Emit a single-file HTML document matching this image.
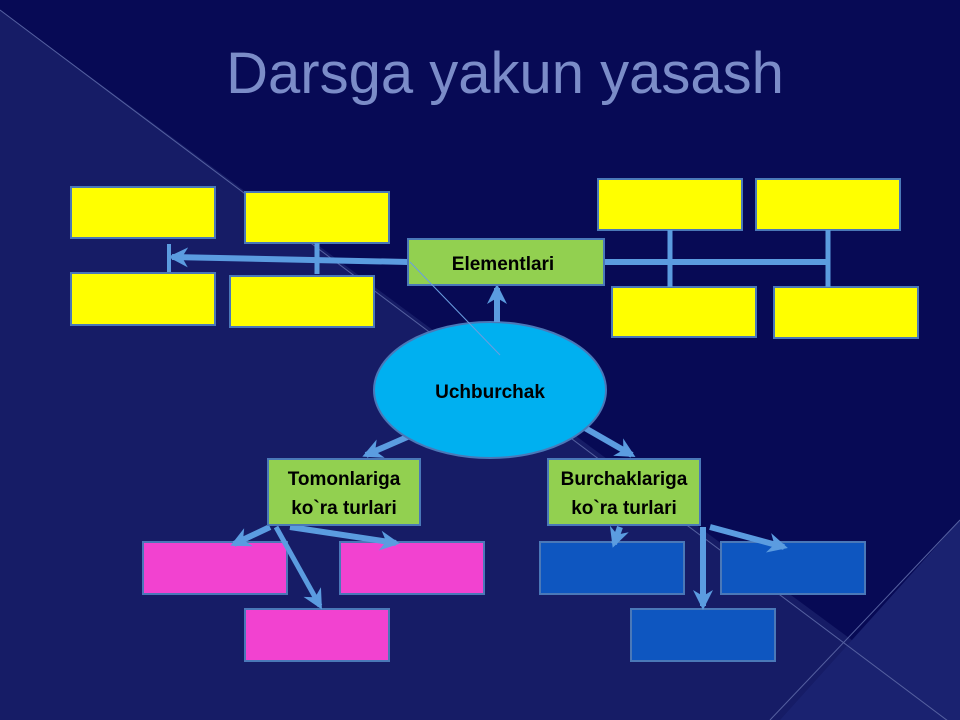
<!DOCTYPE html>
<html><head><style>
body{margin:0;width:960px;height:720px;overflow:hidden;background:#070a55;}
svg{display:block}
text{font-family:"Liberation Sans",sans-serif;font-weight:bold;fill:#000}
</style></head><body>
<svg width="960" height="720" viewBox="0 0 960 720">
<defs>
<marker id="a" markerUnits="userSpaceOnUse" markerWidth="24" markerHeight="24" refX="16" refY="10" orient="auto">
<path d="M0,0 L20,10 L0,20 L6,10 Z" fill="#5b9ce0"/>
</marker>
</defs>
<rect width="960" height="720" fill="#070a55"/>
<polygon points="0,10 0,720 960,720" fill="#161c66"/>
<polygon points="960,520 960,720 780,720" fill="#1a2270"/>
<line x1="0" y1="10" x2="960" y2="730" stroke="#5560a0" stroke-width="1"/>
<line x1="960" y1="520" x2="770" y2="720" stroke="#5560a0" stroke-width="1"/>
<text x="505" y="93" text-anchor="middle" style="font-weight:normal;font-size:58px;fill:#7b8cc8">Darsga yakun yasash</text>

<g stroke="#4a78b8" stroke-width="2">
<rect x="71" y="187" width="144" height="51" fill="#ffff00"/>
<rect x="245" y="192" width="144" height="51" fill="#ffff00"/>
<rect x="71" y="273" width="144" height="52" fill="#ffff00"/>
<rect x="230" y="276" width="144" height="51" fill="#ffff00"/>
<rect x="598" y="179" width="144" height="51" fill="#ffff00"/>
<rect x="756" y="179" width="144" height="51" fill="#ffff00"/>
<rect x="612" y="287" width="144" height="50" fill="#ffff00"/>
<rect x="774" y="287" width="144" height="51" fill="#ffff00"/>
<rect x="143" y="542" width="144" height="52" fill="#f242d0"/>
<rect x="340" y="542" width="144" height="52" fill="#f242d0"/>
<rect x="245" y="609" width="144" height="52" fill="#f242d0"/>
<rect x="540" y="542" width="144" height="52" fill="#0e56c0"/>
<rect x="721" y="542" width="144" height="52" fill="#0e56c0"/>
<rect x="631" y="609" width="144" height="52" fill="#0e56c0"/>
</g>

<g stroke="#5b9ce0" stroke-width="6" fill="none">
<line x1="408" y1="262" x2="172" y2="257" marker-end="url(#a)"/>
<line x1="169" y1="244" x2="169" y2="272" stroke-width="4"/>
<line x1="317" y1="243" x2="317" y2="274" stroke-width="5"/>
<line x1="603" y1="262" x2="828" y2="262"/>
<line x1="670" y1="230" x2="670" y2="287" stroke-width="5"/>
<line x1="828" y1="230" x2="828" y2="287" stroke-width="5"/>
<line x1="497" y1="325" x2="497" y2="288" marker-end="url(#a)"/>
<line x1="428" y1="428" x2="366" y2="455" marker-end="url(#a)"/>
<line x1="585" y1="428" x2="632" y2="455" marker-end="url(#a)"/>
<line x1="270" y1="527" x2="234" y2="544" marker-end="url(#a)"/>
<line x1="276" y1="527" x2="320" y2="606" marker-end="url(#a)" stroke-width="5"/>
<line x1="290" y1="527" x2="396" y2="543" marker-end="url(#a)"/>
<line x1="620" y1="527" x2="614" y2="544" marker-end="url(#a)"/>
<line x1="703" y1="527" x2="703" y2="606" marker-end="url(#a)"/>
<line x1="710" y1="527" x2="784" y2="547" marker-end="url(#a)"/>
</g>

<g stroke="#4a78b8" stroke-width="2">
<rect x="408" y="239" width="196" height="46" fill="#92d050"/>
<ellipse cx="490" cy="390" rx="116" ry="68" fill="#00b0f0"/>
<rect x="268" y="459" width="152" height="66" fill="#92d050"/>
<rect x="548" y="459" width="152" height="66" fill="#92d050"/>
</g>
<line x1="497" y1="322" x2="497" y2="300" stroke="#5b9ce0" stroke-width="6"/>
<line x1="410" y1="262" x2="500" y2="355" stroke="#6a9ee0" stroke-width="1"/>
<text x="503" y="270" text-anchor="middle" font-size="19">Elementlari</text>
<text x="490" y="398" text-anchor="middle" font-size="19">Uchburchak</text>
<text x="344" y="485" text-anchor="middle" font-size="19">Tomonlariga</text>
<text x="344" y="514" text-anchor="middle" font-size="19">ko`ra turlari</text>
<text x="624" y="485" text-anchor="middle" font-size="19">Burchaklariga</text>
<text x="624" y="514" text-anchor="middle" font-size="19">ko`ra turlari</text>
</svg>
</body></html>
